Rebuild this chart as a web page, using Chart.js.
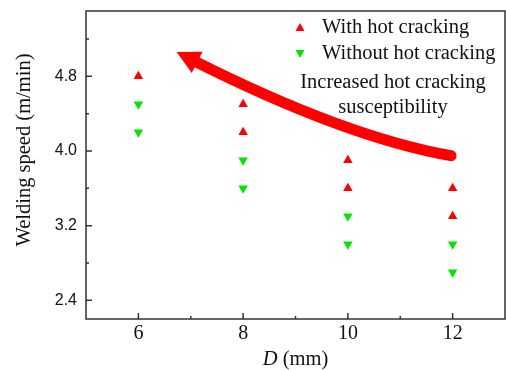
<!DOCTYPE html>
<html>
<head>
<meta charset="utf-8">
<script src="https://cdn.jsdelivr.net/npm/chart.js@4.4.1/dist/chart.umd.min.js"></script>
<style>
    html, body { margin: 0; padding: 0; background: #fff; }
    #wrap { width: 506px; height: 370px; }
</style>
</head>
<body>
<div id="wrap"><canvas id="speedChart" width="506" height="370"></canvas></div>
<script>
const crackD = [6, 8, 8, 10, 10, 12, 12];
const crackSpeed = [4.8, 4.5, 4.2, 3.9, 3.6, 3.6, 3.3];
const noCrackD = [6, 6, 8, 8, 10, 10, 12, 12];
const noCrackSpeed = [4.5, 4.2, 3.9, 3.6, 3.3, 3.0, 3.0, 2.7];

const xTicks = [6, 8, 10, 12];
const xMinor = [7, 9, 11];
const yTicks = [2.4, 3.2, 4.0, 4.8];
const yMinor = [2.8, 3.6, 4.4, 5.2];

// arrow in data units: tail, bend, tip
const arrowPts = [[11.97, 3.95], [9.96, 4.15], [6.73, 5.06]];

const serif = '"Liberation Serif", "Times New Roman", serif';
const red = '#ff0000';
const green = '#00e600';

const ctx = document.getElementById('speedChart').getContext('2d');

const decorPlugin = {
    id: 'decor',
    beforeDatasetsDraw(chart) {
        const c = chart.ctx;
        const xs = chart.scales.x, ys = chart.scales.y;
        const p = arrowPts.map(pt => [xs.getPixelForValue(pt[0]), ys.getPixelForValue(pt[1])]);
        const tip = p[2], ctrl = p[1];
        const dx = tip[0] - ctrl[0], dy = tip[1] - ctrl[1];
        const len = Math.hypot(dx, dy);
        const ux = dx / len, uy = dy / len;
        const headLen = 23, headHalf = 12;
        const bx = tip[0] - ux * headLen, by = tip[1] - uy * headLen;

        c.save();
        c.strokeStyle = red;
        c.fillStyle = red;
        c.lineWidth = 11;
        c.lineCap = 'round';
        c.beginPath();
        c.moveTo(p[0][0], p[0][1]);
        c.quadraticCurveTo(ctrl[0], ctrl[1], bx + ux * 3, by + uy * 3);
        c.stroke();
        c.beginPath();
        c.moveTo(tip[0], tip[1]);
        c.lineTo(bx - uy * headHalf, by + ux * headHalf);
        c.lineTo(bx + uy * headHalf, by - ux * headHalf);
        c.closePath();
        c.fill();
        c.restore();
    },
    afterDraw(chart) {
        const c = chart.ctx;
        const a = chart.chartArea;
        const xs = chart.scales.x, ys = chart.scales.y;
        c.save();

        // frame
        c.strokeStyle = '#333';
        c.lineWidth = 1.5;
        c.strokeRect(a.left, a.top, a.right - a.left, a.bottom - a.top);

        // inward ticks
        c.beginPath();
        xTicks.forEach(v => {
            const x = xs.getPixelForValue(v);
            c.moveTo(x, a.bottom); c.lineTo(x, a.bottom - 6);
        });
        xMinor.forEach(v => {
            const x = xs.getPixelForValue(v);
            c.moveTo(x, a.bottom); c.lineTo(x, a.bottom - 3);
        });
        yTicks.forEach(v => {
            const y = ys.getPixelForValue(v);
            c.moveTo(a.left, y); c.lineTo(a.left + 6, y);
        });
        yMinor.forEach(v => {
            const y = ys.getPixelForValue(v);
            c.moveTo(a.left, y); c.lineTo(a.left + 3, y);
        });
        c.stroke();

        // legend
        c.font = '20.5px ' + serif;
        c.textBaseline = 'middle';
        c.textAlign = 'left';
        const legendItems = [
            { text: chart.data.datasets[0].label, color: red, up: true, y: 27.5 },
            { text: chart.data.datasets[1].label, color: green, up: false, y: 53.5 }
        ];
        legendItems.forEach(item => {
            c.fillStyle = item.color;
            c.beginPath();
            const mx = 300, s = 4.5;
            if (item.up) {
                c.moveTo(mx, item.y - s); c.lineTo(mx + s, item.y + s * 0.8); c.lineTo(mx - s, item.y + s * 0.8);
            } else {
                c.moveTo(mx, item.y + s); c.lineTo(mx + s, item.y - s * 0.8); c.lineTo(mx - s, item.y - s * 0.8);
            }
            c.closePath();
            c.fill();
            c.fillStyle = '#111';
            c.fillText(item.text, 322, item.y);
        });

        // annotation
        c.textAlign = 'center';
        c.fillText('Increased hot cracking', 393, 83);
        c.fillText('susceptibility', 393, 108);

        // x title with italic D
        c.textAlign = 'left';
        c.font = 'italic 20.5px ' + serif;
        const dW = c.measureText('D').width;
        c.font = '20.5px ' + serif;
        const restW = c.measureText(' (mm)').width;
        const startX = (a.left + a.right) / 2 - (dW + restW) / 2;
        c.font = 'italic 20.5px ' + serif;
        c.fillText('D', startX, 360);
        c.font = '20.5px ' + serif;
        c.fillText(' (mm)', startX + dW, 360);

        // y title
        c.translate(25, 150);
        c.rotate(-Math.PI / 2);
        c.textAlign = 'center';
        c.fillText('Welding speed (m/min)', 0, 0);
        c.restore();
    }
};

const speedChart = new Chart(ctx, {
    type: 'scatter',
    data: {
        datasets: [
            {
                label: 'With hot cracking',
                data: crackD.map((d, i) => ({ x: d, y: crackSpeed[i] })),
                pointStyle: 'triangle',
                pointRadius: 5.5,
                backgroundColor: red,
                borderColor: red,
                borderWidth: 0
            },
            {
                label: 'Without hot cracking',
                data: noCrackD.map((d, i) => ({ x: d, y: noCrackSpeed[i] })),
                pointStyle: 'triangle',
                rotation: 180,
                pointRadius: 5.5,
                backgroundColor: green,
                borderColor: green,
                borderWidth: 0
            }
        ]
    },
    options: {
        responsive: false,
        animation: false,
        layout: { autoPadding: false, padding: { top: 11, right: 1, left: 0, bottom: 0 } },
        plugins: {
            legend: { display: false },
            tooltip: { enabled: false }
        },
        scales: {
            x: {
                min: 5,
                max: 13,
                afterBuildTicks: (scale) => { scale.ticks = xTicks.map(v => ({ value: v })); },
                afterFit: (scale) => {
                    scale.height = 51;
                    scale.paddingLeft = 0;
                    scale.paddingRight = 0;
                },
                grid: { display: false, drawTicks: false },
                border: { display: false },
                ticks: {
                    color: '#111',
                    font: { family: serif, size: 20 },
                    padding: 3
                }
            },
            y: {
                min: 2.2,
                max: 5.5,
                afterBuildTicks: (scale) => { scale.ticks = yTicks.map(v => ({ value: v })); },
                afterFit: (scale) => {
                    scale.width = 86;
                    scale.paddingTop = 0;
                    scale.paddingBottom = 0;
                },
                grid: { display: false, drawTicks: false },
                border: { display: false },
                ticks: {
                    color: '#111',
                    font: { family: '"Liberation Sans", Arial, sans-serif', size: 16 },
                    padding: 9,
                    callback: (v) => v.toFixed(1)
                }
            }
        }
    },
    plugins: [decorPlugin]
});
</script>
</body>
</html>
